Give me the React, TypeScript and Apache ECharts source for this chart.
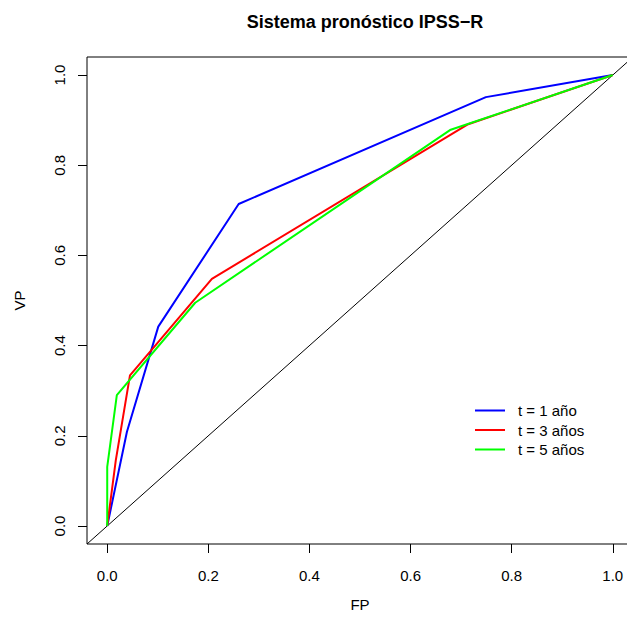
import React, { useEffect, useRef } from "react";
import * as echarts from "echarts";

const ticks = [0, 0.2, 0.4, 0.6, 0.8, 1.0];
const diagonal = [[-0.04, -0.04], [1.04, 1.04]];
const t1 = [[0, 0], [0.039, 0.209], [0.101, 0.442], [0.26, 0.714], [0.749, 0.951], [1, 1]];
const t3 = [[0, 0], [0.017, 0.146], [0.045, 0.334], [0.207, 0.548], [0.714, 0.891], [1, 1]];
const t5 = [[0, 0], [0, 0.131], [0.019, 0.29], [0.174, 0.495], [0.678, 0.878], [1, 1]];
const names = ["t = 1 año", "t = 3 años", "t = 5 años"];
const colors = ["#0000ff", "#ff0000", "#00ff00"];

const FONT = "Liberation Sans, Arial, Helvetica, sans-serif";

export default function App() {
  const ref = useRef<HTMLDivElement>(null);
  useEffect(() => {
    if (!ref.current) return;
    const chart = echarts.init(ref.current, null, { renderer: "svg" });
    const axisCommon = (isX: boolean) => ({
      type: "value",
      min: -0.04,
      max: 1.04,
      splitLine: { show: false },
      axisLine: { show: false, onZero: false },
      axisTick: {
        show: true,
        length: 9,
        customValues: ticks,
        lineStyle: { color: "#000", width: 1 },
      },
      axisLabel: {
        show: true,
        customValues: ticks,
        formatter: (v: number) => v.toFixed(1),
        color: "#000",
        fontSize: 15,
        fontFamily: FONT,
        margin: isX ? 24 : 20,
        rotate: isX ? 0 : 90,
      },
    });
    const series: any[] = [
      {
        type: "line",
        data: diagonal,
        showSymbol: false,
        symbol: "none",
        lineStyle: { color: "#000", width: 1 },
        silent: true,
        z: 1,
      },
    ];
    [t1, t3, t5].forEach((d, i) => {
      series.push({
        name: names[i],
        type: "line",
        data: d,
        symbol: "none",
        color: colors[i],
        lineStyle: { color: colors[i], width: 2 },
        z: 2 + i,
      });
    });
    chart.setOption({
      animation: false,
      backgroundColor: "#fff",
      title: {
        text: "Sistema pronóstico IPSS−R",
        left: 360,
        top: 8,
        textAlign: "center",
        textStyle: { fontSize: 18, fontWeight: "bold", color: "#000", fontFamily: FONT },
      },
      grid: {
        left: 87,
        top: 57,
        width: 546,
        height: 487,
        show: true,
        borderColor: "#000",
        borderWidth: 1,
        backgroundColor: "transparent",
        outerBoundsMode: "none",
        containLabel: false,
      },
      xAxis: {
        ...axisCommon(true),
        name: "FP",
        nameLocation: "middle",
        nameGap: 53,
        nameTextStyle: { fontSize: 15, color: "#000", fontFamily: FONT },
      },
      yAxis: {
        ...axisCommon(false),
        name: "VP",
        nameLocation: "middle",
        nameGap: 60,
        nameTextStyle: { fontSize: 15, color: "#000", fontFamily: FONT },
      },
      legend: {
        data: names,
        orient: "vertical",
        left: 475,
        top: 403,
        itemWidth: 30,
        itemHeight: 2,
        itemGap: 4.5,
        icon: "rect",
        padding: 0,
        textStyle: { fontSize: 15, color: "#000", fontFamily: FONT, padding: [0, 0, 0, 8] },
      },
      series,
    });
    return () => chart.dispose();
  }, []);
  return (
    <div
      ref={ref}
      style={{ position: "absolute", left: 0, top: 0, width: 627, height: 623, background: "#fff" }}
    />
  );
}
